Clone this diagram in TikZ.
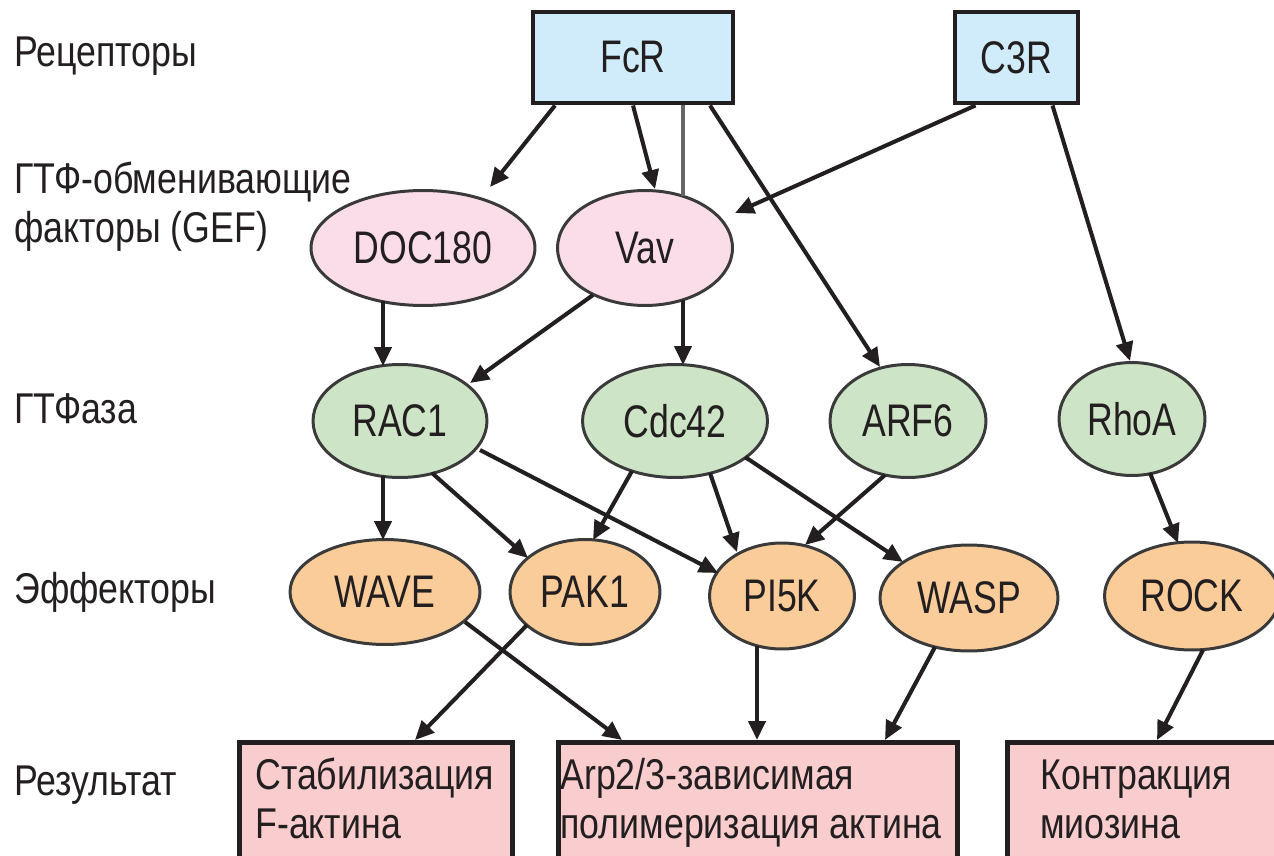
\documentclass[tikz,border=0pt]{standalone}
\usepackage{fontspec}
\setmainfont[FakeStretch=0.83]{Liberation Sans}
\newfontfamily\nodefont[FakeStretch=0.78]{Liberation Sans}
\newfontfamily\resfont[FakeStretch=0.83]{Liberation Sans}
\usetikzlibrary{shapes.geometric,arrows.meta}
\definecolor{recfill}{HTML}{D0ECFB}
\definecolor{geffill}{HTML}{FADDE9}
\definecolor{gtpfill}{HTML}{CDE5C6}
\definecolor{efffill}{HTML}{F9CC9A}
\definecolor{resfill}{HTML}{F9CDCD}
\definecolor{inkc}{HTML}{231F20}
\definecolor{ellc}{HTML}{3A3A3A}
\begin{document}
\begin{tikzpicture}[x=0.02cm,y=-0.02cm,
  lbl/.style={anchor=base west, inner sep=0pt, font=\fontsize{24.5}{29}\selectfont, text=inkc},
  recbox/.style={rectangle, draw=inkc, fill=recfill, line width=2.8pt, minimum height=1.82cm, inner sep=0pt, font=\nodefont\fontsize{26}{30}\selectfont, text=inkc},
  ell/.style={ellipse, draw=ellc, line width=1.7pt, inner sep=0pt, font=\nodefont\fontsize{26}{30}\selectfont, text=inkc},
  gef/.style={ell, fill=geffill, minimum height=2.3cm},
  gtp/.style={ell, fill=gtpfill, minimum height=2.26cm},
  eff/.style={ell, fill=efffill, minimum height=2.1cm},
  resbox/.style={rectangle, draw=inkc, fill=resfill, line width=2.8pt, minimum height=2.6cm, inner sep=0pt, anchor=north west},
  restext/.style={anchor=base west, inner sep=0pt, align=left, font=\resfont\fontsize{24.5}{27.5}\selectfont, text=inkc},
  arr/.style={draw=inkc, line width=2.3pt, -{Triangle[length=0.38cm,width=0.34cm]}},
  plain/.style={draw=black!60, line width=2.4pt}
]
\clip (0,0) rectangle (1274,855);
\fill[white] (0,0) rectangle (1274,855);

% row labels
\node[lbl] (l1) at (14,67) {Рецепторы};
\node[lbl] (l2a) at (14,193) {ГТФ-обменивающие};
\node[lbl] (l2b) at (14,242) {факторы (GEF)};
\node[lbl] (l3) at (14,423) {ГТФаза};
\node[lbl] (l4) at (14,603) {Эффекторы};
\node[lbl] (l5) at (14,795) {Результат};

% receptors
\node[recbox, minimum width=4cm] (fcr) at (633,57.5) {FcR};
\node[recbox, minimum width=2.46cm] (c3r) at (1016.5,57.5) {C3R};

% GEFs
\node[gef, minimum width=4.48cm] (doc) at (423,248) {DOC180};
\node[gef, minimum width=3.5cm] (vav) at (645,248) {Vav};

% GTPases
\node[gtp, minimum width=3.48cm] (rac) at (400,421) {RAC1};
\node[gtp, minimum width=3.7cm] (cdc) at (675,421) {Cdc42};
\node[gtp, minimum width=3.12cm] (arf) at (908,421) {ARF6};
\node[gtp, minimum width=2.92cm] (rho) at (1132,419) {RhoA};

% effectors
\node[eff, minimum width=3.8cm] (wave) at (385,592) {WAVE};
\node[eff, minimum width=3.0cm] (pak) at (585,592) {PAK1};
\node[eff, minimum width=2.9cm, minimum height=2.12cm] (pik) at (782,596) {PI5K};
\node[eff, minimum width=3.56cm, minimum height=2.12cm] (wasp) at (969,598) {WASP};
\node[eff, minimum width=3.5cm, minimum height=2.16cm] (rock) at (1192,596) {ROCK};

% results
\node[resbox, minimum width=5.46cm] (r1) at (237,740) {};
\node[resbox, minimum width=7.98cm] (r2) at (556,740) {};
\node[resbox, minimum width=5.7cm] (r3) at (1005,740) {};
\node[restext] (t1) at (255,838) {Стабилизация\\F-актина};
\node[restext] (t2) at (560,838) {Arp2/3-зависимая\\полимеризация актина};
\node[restext] (t3) at (1040,838) {Контракция\\миозина};

% receptors -> GEF / GTPase
\draw[arr] ([shift={(-78,0)}]fcr.south) -- ([shift={(67,-61)}]doc.center);
\draw[arr] (fcr.south) -- ([shift={(10,0)}]vav.north);
\draw[plain] ([shift={(50,0)}]fcr.south) -- ([shift={(38,-52)}]vav.center);
\draw[arr] ([shift={(77,0)}]fcr.south) -- ([shift={(-28,-54)}]arf.center);
\draw[arr] ([shift={(-41,0)}]c3r.south) -- ([shift={(90,-35)}]vav.center);
\draw[arr] ([shift={(36,0)}]c3r.south) -- ([shift={(-2,0)}]rho.north);

% GEF -> GTPase
\draw[arr] ([shift={(-40,53)}]doc.center) -- ([shift={(-17,-55)}]rac.center);
\draw[arr] ([shift={(-52,47)}]vav.center) -- ([shift={(70,-38)}]rac.center);
\draw[arr] ([shift={(38,52)}]vav.center) -- ([shift={(8,-56)}]cdc.center);

% GTPase -> effectors
\draw[arr] ([shift={(-17,55)}]rac.center) -- ([shift={(-2,-52)}]wave.center);
\draw[arr] ([shift={(32,52)}]rac.center) -- ([shift={(-57,-34)}]pak.center);
\draw[arr] ([shift={(80,29)}]rac.center) -- ([shift={(-64,-23)}]pik.center);
\draw[arr] ([shift={(-43,50)}]cdc.center) -- ([shift={(8,-52)}]pak.center);
\draw[arr] ([shift={(35,52)}]cdc.center) -- ([shift={(-45,-44)}]pik.center);
\draw[arr] ([shift={(70,36)}]cdc.center) -- ([shift={(-66,-36)}]wasp.center);
\draw[arr] ([shift={(-23,54)}]arf.center) -- ([shift={(23,-51)}]pik.center);
\draw[arr] ([shift={(18,54)}]rho.center) -- ([shift={(-14,-53)}]rock.center);

% effectors -> results
\draw[arr] ([shift={(80,30)}]wave.center) -- ([shift={(66,0)}]r2.north west);
\draw[arr] ([shift={(-58,33)}]pak.center) -- ([shift={(178,0)}]r1.north west);
\draw[arr] ([shift={(-25,50)}]pik.center) -- ([shift={(201,0)}]r2.north west);
\draw[arr] ([shift={(-34,49)}]wasp.center) -- ([shift={(329,0)}]r2.north west);
\draw[arr] ([shift={(11,54)}]rock.center) -- ([shift={(152,0)}]r3.north west);
\end{tikzpicture}
\end{document}
